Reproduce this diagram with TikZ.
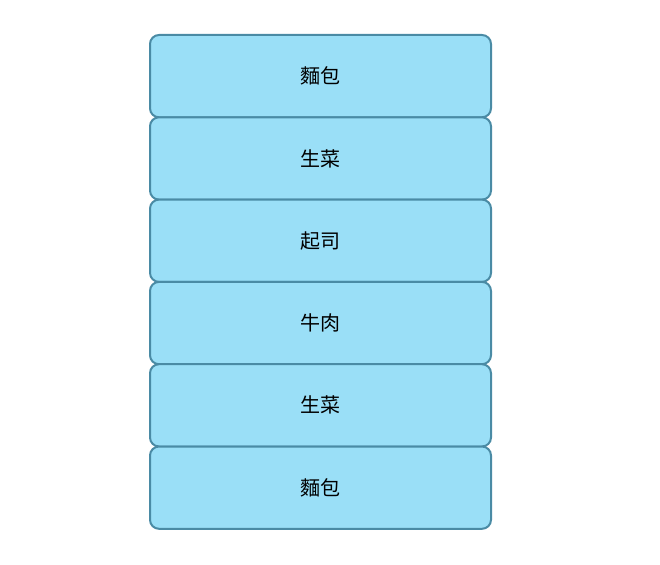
\documentclass[tikz,border=0pt]{standalone}
\usepackage{fontspec}
\newfontfamily\cjk{Noto Sans CJK SC}
\definecolor{boxfill}{HTML}{9ADFF7}
\definecolor{boxline}{HTML}{4A8BA5}
\begin{document}
\begin{tikzpicture}[x=1pt,y=-1pt,
  layer/.style={draw=boxline, fill=boxfill, line width=2pt, rounded corners=9pt,
    minimum width=341pt, minimum height=82.3pt, inner sep=0pt, anchor=north west,
    font=\cjk\fontsize{20}{24}\selectfont, text=black}]
\useasboundingbox (0,0) rectangle (660,564);
\node[layer] (l1) at (149,34) {麵包};
\node[layer] (l2) at (149,116.3) {生菜};
\node[layer] (l3) at (149,198.6) {起司};
\node[layer] (l4) at (149,280.9) {牛肉};
\node[layer] (l5) at (149,363.2) {生菜};
\node[layer] (l6) at (149,445.5) {麵包};
\end{tikzpicture}
\end{document}
